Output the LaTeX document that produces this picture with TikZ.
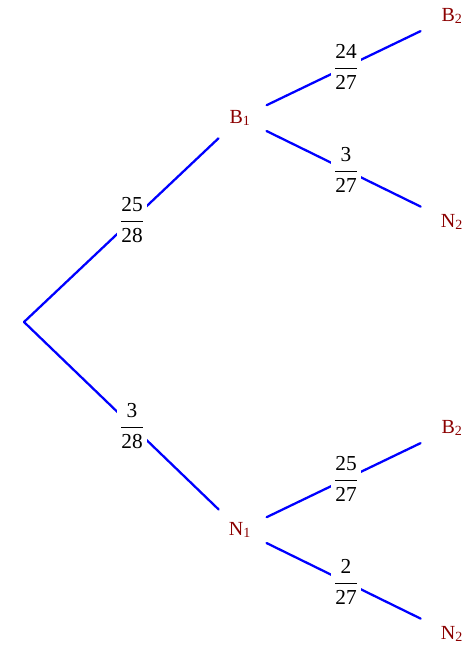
\documentclass[tikz,border=0pt]{standalone}
\usepackage{amsmath}
\usepackage{fontspec}
\setmainfont{Liberation Serif}
\usetikzlibrary{positioning,calc}
\definecolor{evcolor}{RGB}{139,0,0}

\begin{document}
\begin{tikzpicture}[line cap=round,line join=round,x=0.75pt,y=-0.75pt,
	ev/.style={circle,inner sep=0pt,minimum size=44pt,text=evcolor,font=\fontsize{15}{17}\selectfont},
	evr/.style={ev,minimum size=52pt},
	branch/.style={blue,line width=1.7pt},
	prob/.style={fill=white,text=black,inner sep=2pt,font=\fontsize{16}{18}\selectfont}]
			\useasboundingbox (0,0) rectangle (464,645);
			\coordinate (r) at (24,322);
			\node[ev] (b1) at (240,118) {B\textsubscript{1}};
			\node[ev] (n1) at (240,530) {N\textsubscript{1}};
			\node[evr] (b1b2) at (452,16) {B\textsubscript{2}};
			\node[evr] (b1n2) at (452,222) {N\textsubscript{2}};
			\node[evr] (n1b2) at (452,428) {B\textsubscript{2}};
			\node[evr] (n1n2) at (452,634) {N\textsubscript{2}};
			\draw[branch] (r) -- (b1);
			\draw[branch] (r) -- (n1);
			\draw[branch] (b1) -- (b1b2);
			\draw[branch] (b1) -- (b1n2);
			\draw[branch] (n1) -- (n1b2);
			\draw[branch] (n1) -- (n1n2);
			% probabilities, centred between the nodes
			\node[prob] (p1) at ($(r)!0.5!(b1)$) {$\dfrac{\text{25}}{\text{28}}$};
			\node[prob] (p2) at ($(r)!0.5!(n1)$) {$\dfrac{\text{3}}{\text{28}}$};
			\node[prob] (p11) at ($(b1)!0.5!(b1b2)$) {$\dfrac{\text{24}}{\text{27}}$};
			\node[prob] (p12) at ($(b1)!0.5!(b1n2)$) {$\dfrac{\text{3}}{\text{27}}$};
			\node[prob] (p21) at ($(n1)!0.5!(n1b2)$) {$\dfrac{\text{25}}{\text{27}}$};
			\node[prob] (p22) at ($(n1)!0.5!(n1n2)$) {$\dfrac{\text{2}}{\text{27}}$};
\end{tikzpicture}
\end{document}
